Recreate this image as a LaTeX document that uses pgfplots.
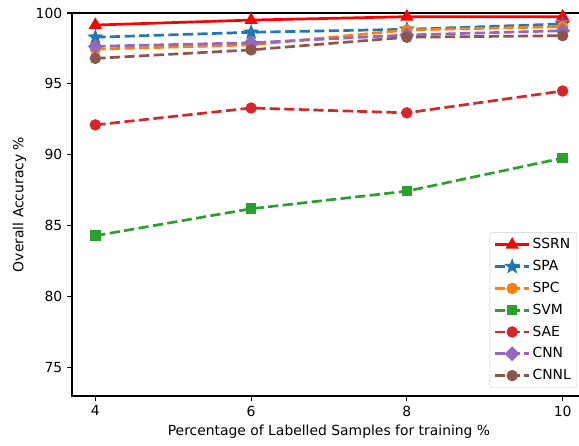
\documentclass[border=0pt]{standalone}
\usepackage{fontspec}
\setmainfont{DejaVu Sans}
\usepackage{pgfplots}
\pgfplotsset{compat=1.18}
\definecolor{tblue}{HTML}{1F77B4}
\definecolor{torange}{HTML}{FF7F0E}
\definecolor{tgreen}{HTML}{2CA02C}
\definecolor{tred}{HTML}{D62728}
\definecolor{tpurple}{HTML}{9467BD}
\definecolor{tbrown}{HTML}{8C564B}
\definecolor{legedge}{HTML}{CCCCCC}
\pgfdeclareplotmark{fstar}{%
  \pgfpathmoveto{\pgfpointpolar{90}{\pgfplotmarksize}}%
  \pgfpathlineto{\pgfpointpolar{126}{0.42\pgfplotmarksize}}%
  \pgfpathlineto{\pgfpointpolar{162}{\pgfplotmarksize}}%
  \pgfpathlineto{\pgfpointpolar{198}{0.42\pgfplotmarksize}}%
  \pgfpathlineto{\pgfpointpolar{234}{\pgfplotmarksize}}%
  \pgfpathlineto{\pgfpointpolar{270}{0.42\pgfplotmarksize}}%
  \pgfpathlineto{\pgfpointpolar{306}{\pgfplotmarksize}}%
  \pgfpathlineto{\pgfpointpolar{342}{0.42\pgfplotmarksize}}%
  \pgfpathlineto{\pgfpointpolar{18}{\pgfplotmarksize}}%
  \pgfpathlineto{\pgfpointpolar{54}{0.42\pgfplotmarksize}}%
  \pgfpathclose\pgfusepathqfillstroke}
\pgfdeclareplotmark{fdiamond}{%
  \pgfpathmoveto{\pgfqpoint{0pt}{\pgfplotmarksize}}%
  \pgfpathlineto{\pgfqpoint{\pgfplotmarksize}{0pt}}%
  \pgfpathlineto{\pgfqpoint{0pt}{-\pgfplotmarksize}}%
  \pgfpathlineto{\pgfqpoint{-\pgfplotmarksize}{0pt}}%
  \pgfpathclose\pgfusepathqfillstroke}
\begin{document}
\fontsize{13.9}{16}\selectfont
\begin{tikzpicture}
\begin{axis}[
  scale only axis, width=514pt, height=383pt,
  xmin=3.7, xmax=10.3, ymin=73, ymax=100,
  xtick={4,6,8,10}, ytick={75,80,85,90,95,100},
  xtick pos=left, ytick pos=left,
  tick align=outside, major tick length=4.9pt,
  tick style={line width=1.1pt, black},
  axis line style={line width=1.1pt},
  /pgf/number format/assume math mode=true,
  ticklabel style={font=\fontsize{13.9}{16}\selectfont},
  label style={font=\fontsize{13.9}{16}\selectfont},
  xlabel={Percentage of Labelled Samples for training \%},
  ylabel={Overall Accuracy \%},
  xlabel style={at={(axis description cs:0.5,-0.094)}, anchor=center},
  ylabel style={at={(axis description cs:-0.102,0.5)}, anchor=center},
  legend cell align=left,
  legend style={at={(1,0)}, anchor=south east, xshift=-9pt, yshift=8pt,
    draw=legedge, rounded corners=2pt, fill=white,
    font=\fontsize{13.9}{16}\selectfont, row sep=5.4pt, inner sep=4pt},
  legend image code/.code={\draw[mark repeat=2,mark phase=2] plot coordinates {(0pt,0pt) (17pt,0pt) (34pt,0pt)};},
  every axis plot/.append style={line width=2.7pt, mark size=4.3pt, mark options={solid}},
]
\addplot[color=red, solid, mark=triangle*, mark size=5pt] coordinates {(4,99.15) (6,99.5) (8,99.74) (10,99.74)};
\addlegendentry{SSRN}
\addplot[color=tblue, dash pattern=on 10.2pt off 4.4pt, mark=fstar, mark size=4.6pt] coordinates {(4,98.29) (6,98.64) (8,98.85) (10,99.23)};
\addlegendentry{SPA}
\addplot[color=torange, dash pattern=on 10.2pt off 4.4pt, mark=*] coordinates {(4,97.45) (6,97.75) (8,98.8) (10,99.04)};
\addlegendentry{SPC}
\addplot[color=tgreen, dash pattern=on 10.2pt off 4.4pt, mark=square*, mark size=3.9pt] coordinates {(4,84.3) (6,86.2) (8,87.44) (10,89.77)};
\addlegendentry{SVM}
\addplot[color=tred, dash pattern=on 10.2pt off 4.4pt, mark=*] coordinates {(4,92.11) (6,93.3) (8,92.96) (10,94.5)};
\addlegendentry{SAE}
\addplot[color=tpurple, dash pattern=on 10.2pt off 4.4pt, mark=fdiamond, mark size=5.5pt] coordinates {(4,97.65) (6,97.9) (8,98.45) (10,98.75)};
\addlegendentry{CNN}
\addplot[color=tbrown, dash pattern=on 10.2pt off 4.4pt, mark=*] coordinates {(4,96.8) (6,97.4) (8,98.29) (10,98.4)};
\addlegendentry{CNNL}
\end{axis}
\pgfresetboundingbox
\useasboundingbox (-72pt,-50pt) rectangle (507pt,396pt);
\end{tikzpicture}
\end{document}
